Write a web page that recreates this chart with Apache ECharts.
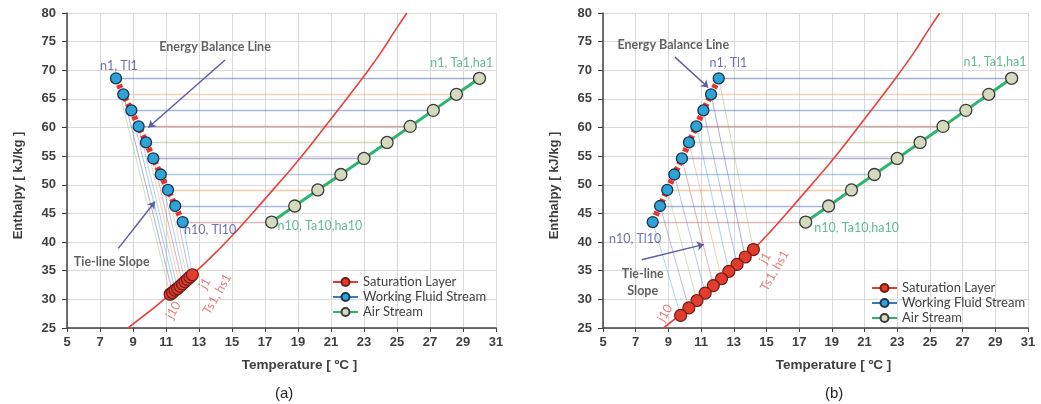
<!DOCTYPE html>
<html>
<head>
<meta charset="utf-8">
<script src="https://cdn.jsdelivr.net/npm/echarts@6/dist/echarts.min.js"></script>
<style>html,body{margin:0;background:#fff}#chart{width:1041px;height:404px}</style>
</head>
<body>
<div id="chart"></div>
<script>
// working fluid stream n1..n10
const wfTempA = [7.97, 8.41, 8.90, 9.34, 9.79, 10.23, 10.68, 11.12, 11.56, 12.01];
const wfTempB = [12.08, 11.61, 11.14, 10.71, 10.26, 9.83, 9.36, 8.93, 8.49, 8.04];
const wfEnth = [68.6, 65.8, 63.0, 60.2, 57.4, 54.6, 51.8, 49.1, 46.3, 43.5];
// air stream n1..n10 (same in both cases)
const airTemp = [30.0, 28.6, 27.2, 25.8, 24.4, 23.0, 21.6, 20.2, 18.8, 17.4];
const airEnth = [68.6, 65.8, 63.0, 60.2, 57.4, 54.6, 51.8, 49.1, 46.3, 43.5];
// saturation layer points, listed in the order they tie to n1..n10
const satTempA = [11.25, 11.40, 11.55, 11.70, 11.85, 12.00, 12.15, 12.30, 12.45, 12.60];
const satEnthA = [30.9, 31.2, 31.6, 31.9, 32.3, 32.7, 33.1, 33.5, 33.9, 34.3];
const satTempB = [14.20, 13.70, 13.20, 12.70, 12.25, 11.75, 11.25, 10.75, 10.25, 9.75];
const satEnthB = [38.7, 37.4, 36.1, 34.9, 33.6, 32.4, 31.1, 29.8, 28.5, 27.2];
// saturation curve
const curveTemp = [8.7, 9.5, 10.3, 11.2, 12.2, 13.2, 14.2, 15.2, 16.2, 17.2, 18.2, 19.2, 20.0, 21.0, 22.0, 23.0, 24.0, 24.9, 25.6];
const curveEnth = [25.0, 26.8, 28.6, 30.8, 33.3, 35.9, 38.7, 41.7, 44.9, 48.2, 51.5, 54.9, 57.8, 61.5, 65.2, 69.0, 73.0, 77.0, 80.0];

const seriesNames = ["Saturation Layer", "Working Fluid Stream", "Air Stream"];
const hColors = ["#4b5e93", "#e9a57a", "#5275b5", "#9b5350", "#a9b879", "#6b5b95", "#5a9ac4", "#f0965a", "#4f76b8", "#b57a78"];
const tieColors = ["#9fc27f", "#5b5fa3", "#5a8ccc", "#4fb0c8", "#f2a06a", "#c9605c", "#6f8fd0", "#a6c57e", "#8a70b0", "#5ab0d0"];

const blueTxt = "#4b4fa0", greenTxt = "#3aab72", redTxt = "#e0625e", darkTxt = "#3a3a3a";

// annotations: [x, y, text, color, rotate, bold]
const notesA = [
  [13.97, 74.1, "Energy Balance Line", darkTxt, 0, true],
  [7.71, 36.5, "Tie-line Slope", darkTxt, 0, true],
  [8.15, 70.8, "n1, Tl1", blueTxt, 0, false],
  [13.67, 42.1, "n10, Tl10", blueTxt, 0, false],
  [28.92, 71.2, "n1, Ta1,ha1", greenTxt, 0, false],
  [20.33, 42.9, "n10, Ta10,ha10", greenTxt, 0, false],
  [13.36, 32.8, "j1", redTxt, 60, false],
  [14.1, 30.9, "Ts1, hs1", redTxt, 60, false],
  [11.44, 28.1, "j10", redTxt, 60, false]
];
const notesB = [
  [9.30, 74.4, "Energy Balance Line", darkTxt, 0, true],
  [7.43, 34.4, "Tie-line", darkTxt, 0, true],
  [7.43, 31.5, "Slope", darkTxt, 0, true],
  [12.67, 71.2, "n1, Tl1", blueTxt, 0, false],
  [6.96, 40.5, "n10, Tl10", blueTxt, 0, false],
  [28.98, 71.4, "n1, Ta1,ha1", greenTxt, 0, false],
  [20.52, 42.4, "n10, Ta10,ha10", greenTxt, 0, false],
  [14.91, 37.2, "j1", redTxt, 60, false],
  [15.5, 35.0, "Ts1, hs1", redTxt, 60, false],
  [8.79, 27.6, "j10", redTxt, 60, false]
];
// arrows [x1, y1, x2, y2]
const arrowsA = [[14.58, 71.8, 9.93, 60.0], [8.11, 38.9, 10.33, 47.05]];
const arrowsB = [[9.40, 72.3, 11.44, 67.0], [7.37, 36.9, 11.18, 39.6]];

const zip = (xs, ys) => xs.map((x, i) => [x, ys[i]]);

function panel(k, wfTemp, satTemp, satEnth, notes, arrows) {
  const ax = { xAxisIndex: k, yAxisIndex: k };
  const connectors = [];
  wfTemp.forEach((t, i) => {
    connectors.push({ coords: [[t, wfEnth[i]], [airTemp[i], airEnth[i]]], lineStyle: { color: hColors[i], width: 1.4 } });
    connectors.push({ coords: [[t, wfEnth[i]], [satTemp[i], satEnth[i]]], lineStyle: { color: tieColors[i], width: 1 } });
  });
  return [
    { type: "lines", ...ax, coordinateSystem: "cartesian2d", silent: true, z: 1, data: connectors },
    {
      type: "line", ...ax, data: zip(curveTemp, curveEnth), smooth: true, showSymbol: false, silent: true, z: 2,
      lineStyle: { color: "#e8403a", width: 1.6 }
    },
    {
      type: "line", ...ax, data: zip(wfTemp, wfEnth), showSymbol: false, silent: true, z: 3,
      lineStyle: { color: "#e8322c", width: 6, type: [4, 3] }
    },
    {
      name: seriesNames[0], type: "line", ...ax, data: zip(satTemp, satEnth), z: 4,
      symbol: "circle", symbolSize: 12,
      lineStyle: { color: "#e33b2e", width: 2 },
      itemStyle: { color: "#e33b2e", borderColor: "#6b1d14", borderWidth: 1.2 }
    },
    {
      name: seriesNames[1], type: "line", ...ax, data: zip(wfTemp, wfEnth), z: 5,
      symbol: "circle", symbolSize: 11,
      lineStyle: { color: "#3a78c2", width: 2, opacity: 0 },
      itemStyle: { color: "#2ea3d6", borderColor: "#1b3550", borderWidth: 1.3 }
    },
    {
      name: seriesNames[2], type: "line", ...ax, data: zip(airTemp, airEnth), z: 5,
      symbol: "circle", symbolSize: 12,
      lineStyle: { color: "#2db56e", width: 3 },
      itemStyle: { color: "#d5d9bd", borderColor: "#3c3c3c", borderWidth: 1.3 }
    },
    {
      type: "scatter", ...ax, symbolSize: 0, silent: true, z: 6,
      data: notes.map(n => ({
        value: [n[0], n[1]],
        label: {
          show: true, position: "inside", formatter: n[2], color: n[3], rotate: n[4],
          fontWeight: n[5] ? "bold" : "normal", fontSize: 12.5, fontFamily: "Lato"
        }
      })),
      markLine: {
        silent: true, symbol: ["none", "arrow"], symbolSize: 7, animation: false,
        label: { show: false },
        lineStyle: { color: "#5b5ea6", width: 1.5, type: "solid" },
        data: arrows.map(a => [{ coord: [a[0], a[1]] }, { coord: [a[2], a[3]] }])
      }
    }
  ];
}

const axisFont = { fontFamily: "Liberation Sans", fontWeight: "bold", fontSize: 13, color: "#404040" };
function xAx(k) {
  return {
    type: "value", gridIndex: k, min: 5, max: 31, interval: 2,
    name: "Temperature [ ºC ]", nameLocation: "middle", nameGap: 30,
    nameTextStyle: { ...axisFont, fontSize: 13.5, padding: [0, 0, 0, 36] },
    axisLine: { show: true, onZero: false, lineStyle: { color: "#404040", width: 1.5 } },
    axisTick: { show: true, length: 4, lineStyle: { color: "#404040" } },
    axisLabel: { ...axisFont, margin: 8 },
    splitLine: { show: true, lineStyle: { color: "#d9d9d9" } }
  };
}
function yAx(k) {
  return {
    type: "value", gridIndex: k, min: 25, max: 80, interval: 5,
    name: "Enthalpy [ kJ/kg ]", nameLocation: "middle", nameGap: 42,
    nameTextStyle: { ...axisFont, fontSize: 13, padding: [0, 30, 0, 0] },
    axisLine: { show: true, onZero: false, lineStyle: { color: "#404040", width: 1.5 } },
    axisTick: { show: true, length: 5, lineStyle: { color: "#404040" } },
    axisLabel: { ...axisFont, margin: 11 },
    splitLine: { show: true, lineStyle: { color: "#d9d9d9" } }
  };
}
function legend(left, top) {
  return {
    data: [
      seriesNames[0],
      { name: seriesNames[1], lineStyle: { color: "#3a78c2", width: 2, opacity: 1 } },
      seriesNames[2]
    ],
    orient: "vertical", left: left, top: top,
    itemWidth: 25, itemHeight: 10, itemGap: 1,
    textStyle: { fontFamily: "Lato", fontSize: 13, lineHeight: 14, color: "#404040" }
  };
}

const chart = echarts.init(document.getElementById("chart"));
chart.setOption({
  animation: false,
  title: [
    { text: "(a)", left: 270, top: 381, textStyle: { fontSize: 15, fontWeight: "normal", color: "#222", fontFamily: "Liberation Sans" } },
    { text: "(b)", left: 820, top: 381, textStyle: { fontSize: 15, fontWeight: "normal", color: "#222", fontFamily: "Liberation Sans" } }
  ],
  grid: [
    { left: 67, top: 13, width: 429, height: 315 },
    { left: 603, top: 13, width: 425, height: 315 }
  ],
  xAxis: [xAx(0), xAx(1)],
  yAxis: [yAx(0), yAx(1)],
  legend: [legend(327, 270), legend(866, 276)],
  series: [
    ...panel(0, wfTempA, satTempA, satEnthA, notesA, arrowsA),
    ...panel(1, wfTempB, satTempB, satEnthB, notesB, arrowsB)
  ]
});
</script>
</body>
</html>
